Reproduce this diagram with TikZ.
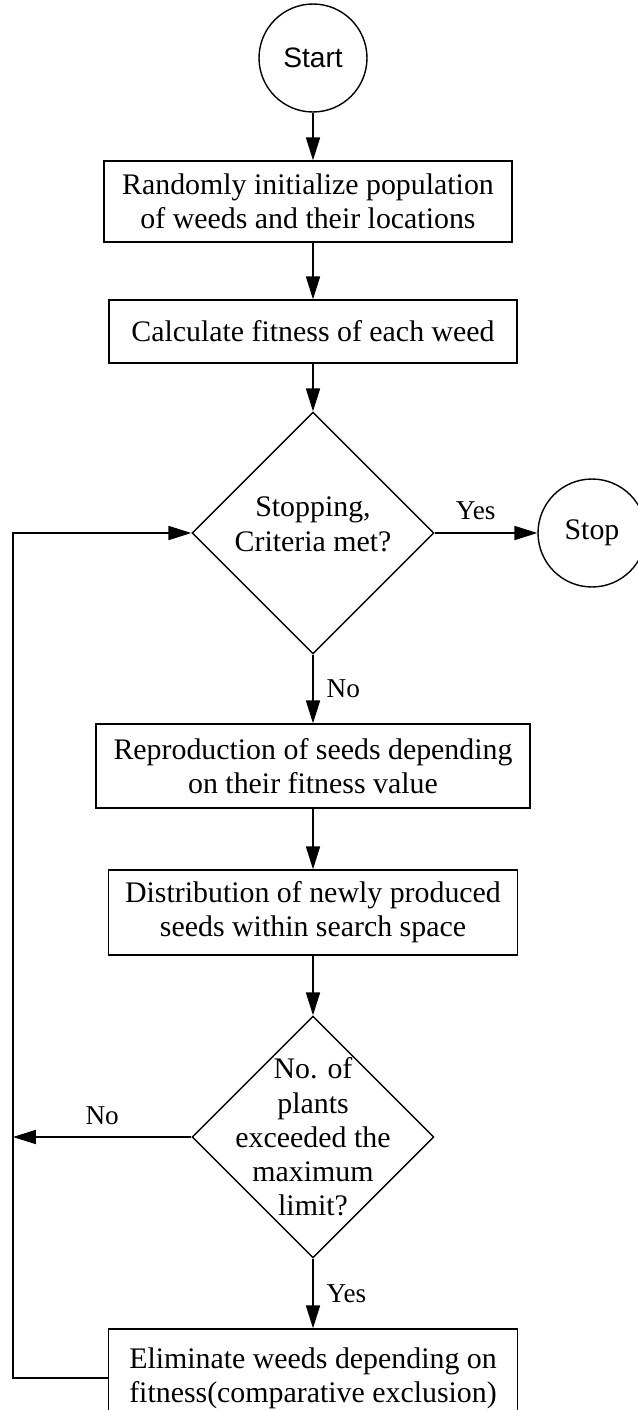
\documentclass[tikz,border=0pt]{standalone}
\usepackage{fontspec}
\setmainfont{Liberation Serif}
\newfontfamily\sansfont{Liberation Sans}
\usetikzlibrary{arrows.meta, shapes.geometric}

\begin{document}
\begin{tikzpicture}[x=0.02cm, y=-0.02cm, line width=0.8pt,
    proc/.style={draw, rectangle, align=center, inner sep=0pt,
      font=\fontsize{17pt}{19.5pt}\selectfont},
    decide/.style={draw, diamond, minimum width=4.84cm, minimum height=4.84cm, inner sep=0pt},
    qtext/.style={align=center, font=\fontsize{17pt}{19.5pt}\selectfont},
    term/.style={draw, circle, minimum size=2.16cm, inner sep=0pt},
    arr/.style={-{Triangle[length=13pt,width=8pt]}},
    lbl/.style={font=\fontsize{15.5pt}{18pt}\selectfont}]
    \useasboundingbox (0,0) rectangle (637,1410);

    % start / stop
    \node[term, font=\sansfont\fontsize{16pt}{19pt}\selectfont] (start) at (313,58) {Start};
    \node[term, font=\fontsize{17pt}{19.5pt}\selectfont] (stop) at (592,533) {Stop};

    % process boxes
    \node[proc, minimum width=8.16cm, minimum height=1.62cm] (init) at (308,201.5)
      {Randomly initialize population\\of weeds and their locations};
    \node[proc, minimum width=8.16cm, minimum height=1.26cm] (fit) at (313,331.5)
      {Calculate fitness of each weed};
    \node[proc, minimum width=8.68cm, minimum height=1.68cm] (repro) at (313,766)
      {Reproduction of seeds depending\\on their fitness value};
    \node[proc, minimum width=8.18cm, minimum height=1.70cm] (distr) at (313,912.5)
      {Distribution of newly produced\\seeds within search space};
    \node[proc, minimum width=8.18cm, minimum height=1.96cm] (elim) at (313,1378)
      {Eliminate weeds depending on\\fitness(comparative exclusion)};

    % decisions
    \node[decide, label={[qtext, yshift=5pt]center:{Stopping,\\Criteria met?}}] (stopq) at (313,533) {};
    \node[decide, label={[qtext]center:{No. of\\plants\\exceeded the\\maximum\\limit?}}] (limitq) at (313,1137) {};

    % main flow
    \draw[arr] (start) -- (start |- init.north);
    \draw[arr] (init.south -| start) -- (fit);
    \draw[arr] (fit) -- (stopq);
    \draw[arr] (stopq.east) -- (stop) node[lbl, pos=0.4, above=4pt] {Yes};
    \draw[arr] (stopq.south) -- (repro) node[lbl, midway, right=4pt] {No};
    \draw[arr] (repro) -- (distr);
    \draw[arr] (distr) -- (limitq);
    \draw[arr] (limitq.south) -- (elim) node[lbl, midway, right=4pt] {Yes};

    % loop back
    \coordinate (ret) at (13,533);
    \draw[arr] (elim.west) -| (ret) -- (stopq.west);
    \draw[arr] (limitq.west) -- (limitq.west -| ret) node[lbl, midway, above=3pt] {No};
\end{tikzpicture}
\end{document}
